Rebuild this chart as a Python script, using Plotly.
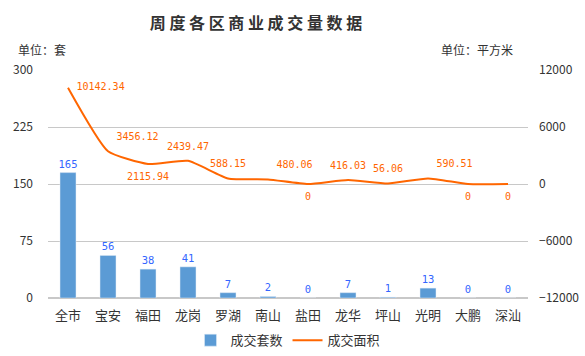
import plotly.graph_objects as go

categories = ["全市", "宝安", "福田", "龙岗", "罗湖", "南山", "盐田", "龙华", "坪山", "光明", "大鹏", "深汕"]
units_sold = [165, 56, 38, 41, 7, 2, 0, 7, 1, 13, 0, 0]
area_sold = [10142.34, 3456.12, 2115.94, 2439.47, 588.15, 480.06, 0, 416.03, 56.06, 590.51, 0, 0]
area_text = ["10142.34", "3456.12", "2115.94", "2439.47", "588.15", "480.06", "0", "416.03", "56.06", "590.51", "0", "0"]
area_label_pos = ["middle right", "top right", "bottom center", "top center", "top center", "top right",
                  "bottom center", "top center", "top center", "top right", "bottom center", "bottom center"]

font_main = "Noto Sans CJK SC, sans-serif"
font_num = "DejaVu Sans Mono, monospace"

fig = go.Figure()
fig.add_trace(go.Bar(
    x=categories, y=units_sold, name="成交套数",
    marker_color="#5b9bd5", width=0.4,
    text=[str(v) for v in units_sold], textposition="outside",
    textfont=dict(color="#3366ff", size=10.5, family=font_num),
    constraintext="none", cliponaxis=False,
))
fig.add_trace(go.Scatter(
    x=categories, y=area_sold, name="成交面积", yaxis="y2",
    mode="lines", line=dict(color="#ff6600", width=2, shape="spline", smoothing=0.5),
    cliponaxis=False,
))
fig.add_trace(go.Scatter(
    x=categories, y=area_sold, name="成交面积", yaxis="y2", showlegend=False,
    mode="markers+text", marker=dict(size=12, opacity=0, color="#ff6600"),
    text=area_text, textposition=area_label_pos,
    textfont=dict(color="#ff6600", size=10, family=font_num),
    cliponaxis=False, hoverinfo="skip",
))

fig.update_layout(
    width=585, height=356,
    margin=dict(l=48, r=57, t=70, b=58, autoexpand=False),
    paper_bgcolor="white", plot_bgcolor="white",
    font=dict(family=font_main, color="#333333", size=12),
    title=dict(text="<b>周 度 各 区 商 业 成 交 量 数 据</b>", x=0.4376, xanchor="center", y=0.934, yanchor="middle",
               font=dict(size=16, color="#333333", family=font_main)),
    showlegend=True,
    legend=dict(orientation="h", x=0.5, xanchor="center", y=-0.185, yanchor="middle",
                font=dict(size=13, color="#333333"), traceorder="normal", itemwidth=30),
    xaxis=dict(showgrid=False, tickfont=dict(size=13, color="#333333"), ticks="", showline=False,
               range=[-0.5, len(categories) - 0.5], ticklabelstandoff=8, automargin=False),
    yaxis=dict(range=[0, 300], dtick=75, gridcolor="#c8c8c8", zeroline=True, zerolinecolor="#c8c8c8",
               tickfont=dict(size=12, color="#333333"), ticks="", ticklabelstandoff=14, automargin=False),
    yaxis2=dict(range=[-12000, 12000], dtick=6000, overlaying="y", side="right", showgrid=False,
                zeroline=False, tickformat="d", tickfont=dict(size=12, color="#333333"), ticks="",
                ticklabelstandoff=10, automargin=False),
)
fig.add_annotation(text="单位：套", xref="paper", yref="paper", x=-0.0667, y=1.088,
                   xanchor="left", yanchor="middle", showarrow=False, font=dict(size=12, color="#333333"))
fig.add_annotation(text="单位：平方米", xref="paper", yref="paper", x=0.973, y=1.088,
                   xanchor="right", yanchor="middle", showarrow=False, font=dict(size=12, color="#333333"))

fig.write_html("out.html", config={"displayModeBar": False},
               post_script="document.body.style.margin='0px';document.body.style.overflow='hidden';")
